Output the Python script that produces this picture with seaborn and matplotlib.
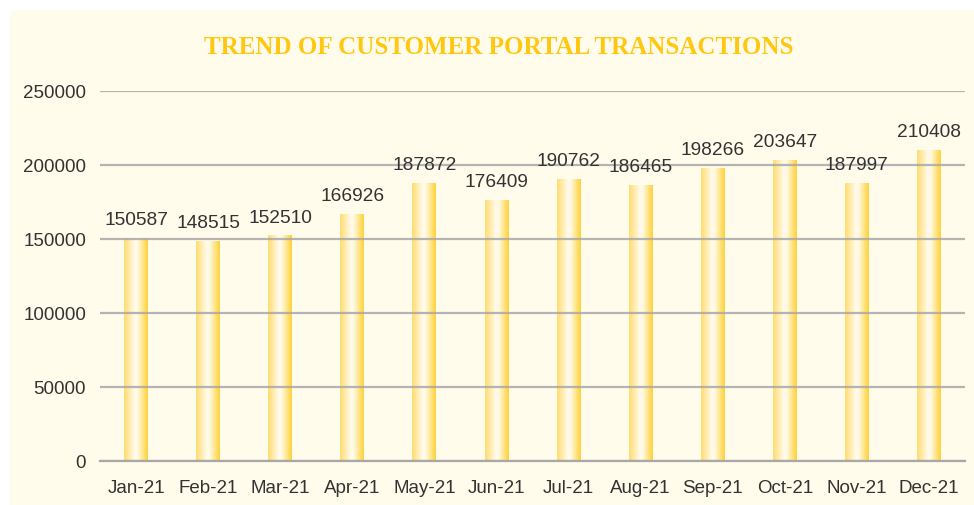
import numpy as np
import pandas as pd
import seaborn as sns
import matplotlib.pyplot as plt
from matplotlib.colors import LinearSegmentedColormap

# monthly transactions
months = ['Jan-21', 'Feb-21', 'Mar-21', 'Apr-21', 'May-21', 'Jun-21',
          'Jul-21', 'Aug-21', 'Sep-21', 'Oct-21', 'Nov-21', 'Dec-21']
transactions = [150587, 148515, 152510, 166926, 187872, 176409,
                190762, 186465, 198266, 203647, 187997, 210408]
yticks = [0, 50000, 100000, 150000, 200000, 250000]

df = pd.DataFrame({'month': months, 'transactions': transactions})

bg = '#FFFCEC'
grid_col = '#A8A8A8'
text_col = '#333333'

sns.set_style('white')
plt.rcParams['font.family'] = ['Liberation Sans', 'DejaVu Sans']

fig = plt.figure(figsize=(9.74, 5.06), dpi=100)
fig.patch.set_facecolor('white')
# cream panel with a thin white margin top/left
fig.patches.append(plt.Rectangle((10 / 974, 0), 1, 1 - 11 / 506,
                                 transform=fig.transFigure, facecolor=bg,
                                 edgecolor='none', zorder=-10))
ax = fig.add_axes([100 / 974, 1 - 462 / 506, 865 / 974, (462 - 92) / 506])
ax.set_facecolor(bg)

sns.barplot(data=df, x='month', y='transactions', width=0.33, ax=ax,
            color='#FFD966', edgecolor='none')

# horizontal gradient inside each bar: yellow edges, near-white centre
cmap = LinearSegmentedColormap.from_list(
    'bar', [(0, '#FFDC70'), (0.45, '#FFFBEA'), (0.55, '#FFFBEA'), (1, '#FFD238')])
grad = np.linspace(0, 1, 64).reshape(1, -1)
for p in ax.patches:
    x0, y0 = p.get_x(), p.get_y()
    w, h = p.get_width(), p.get_height()
    im = ax.imshow(grad, cmap=cmap, aspect='auto', extent=(x0, x0 + w, y0, y0 + h),
                   zorder=1, interpolation='bicubic')
    im.set_clip_path(p)
    p.set_facecolor('none')

for i, v in enumerate(transactions):
    ax.annotate(f'{v}', (i, v), xytext=(0, 7), textcoords='offset points',
                ha='center', va='bottom', fontsize=13.8, color=text_col, zorder=5)

ax.set_xlim(-0.5, len(months) - 0.5)
ax.set_ylim(0, 250000)
ax.set_yticks(yticks)
ax.set_yticklabels([str(t) for t in yticks])
ax.set_axisbelow(False)
ax.yaxis.grid(True, color=grid_col, lw=1.6, alpha=0.85, zorder=2.5)
ax.xaxis.grid(False)

for s in ['top', 'right', 'left']:
    ax.spines[s].set_visible(False)
ax.spines['bottom'].set_color(grid_col)
ax.spines['bottom'].set_linewidth(1.6)
ax.spines['bottom'].set_zorder(3)

ax.set_xticks(np.arange(-0.5, len(months)), minor=True)
ax.tick_params(axis='x', which='minor', length=5, width=1.3, color=grid_col, direction='out')
ax.tick_params(axis='x', which='major', length=0, pad=13, labelsize=13.5, labelcolor=text_col)
ax.tick_params(axis='y', length=0, pad=10, labelsize=13.5, labelcolor=text_col)
ax.set_xlabel('')
ax.set_ylabel('')

fig.text(499 / 974, 1 - 47 / 506, 'TREND OF CUSTOMER PORTAL TRANSACTIONS',
         ha='center', va='center', fontsize=18, fontweight='bold',
         color='#FFC710', family=['Liberation Serif', 'DejaVu Serif'])

plt.savefig('out.png', dpi=100, facecolor=fig.get_facecolor())
